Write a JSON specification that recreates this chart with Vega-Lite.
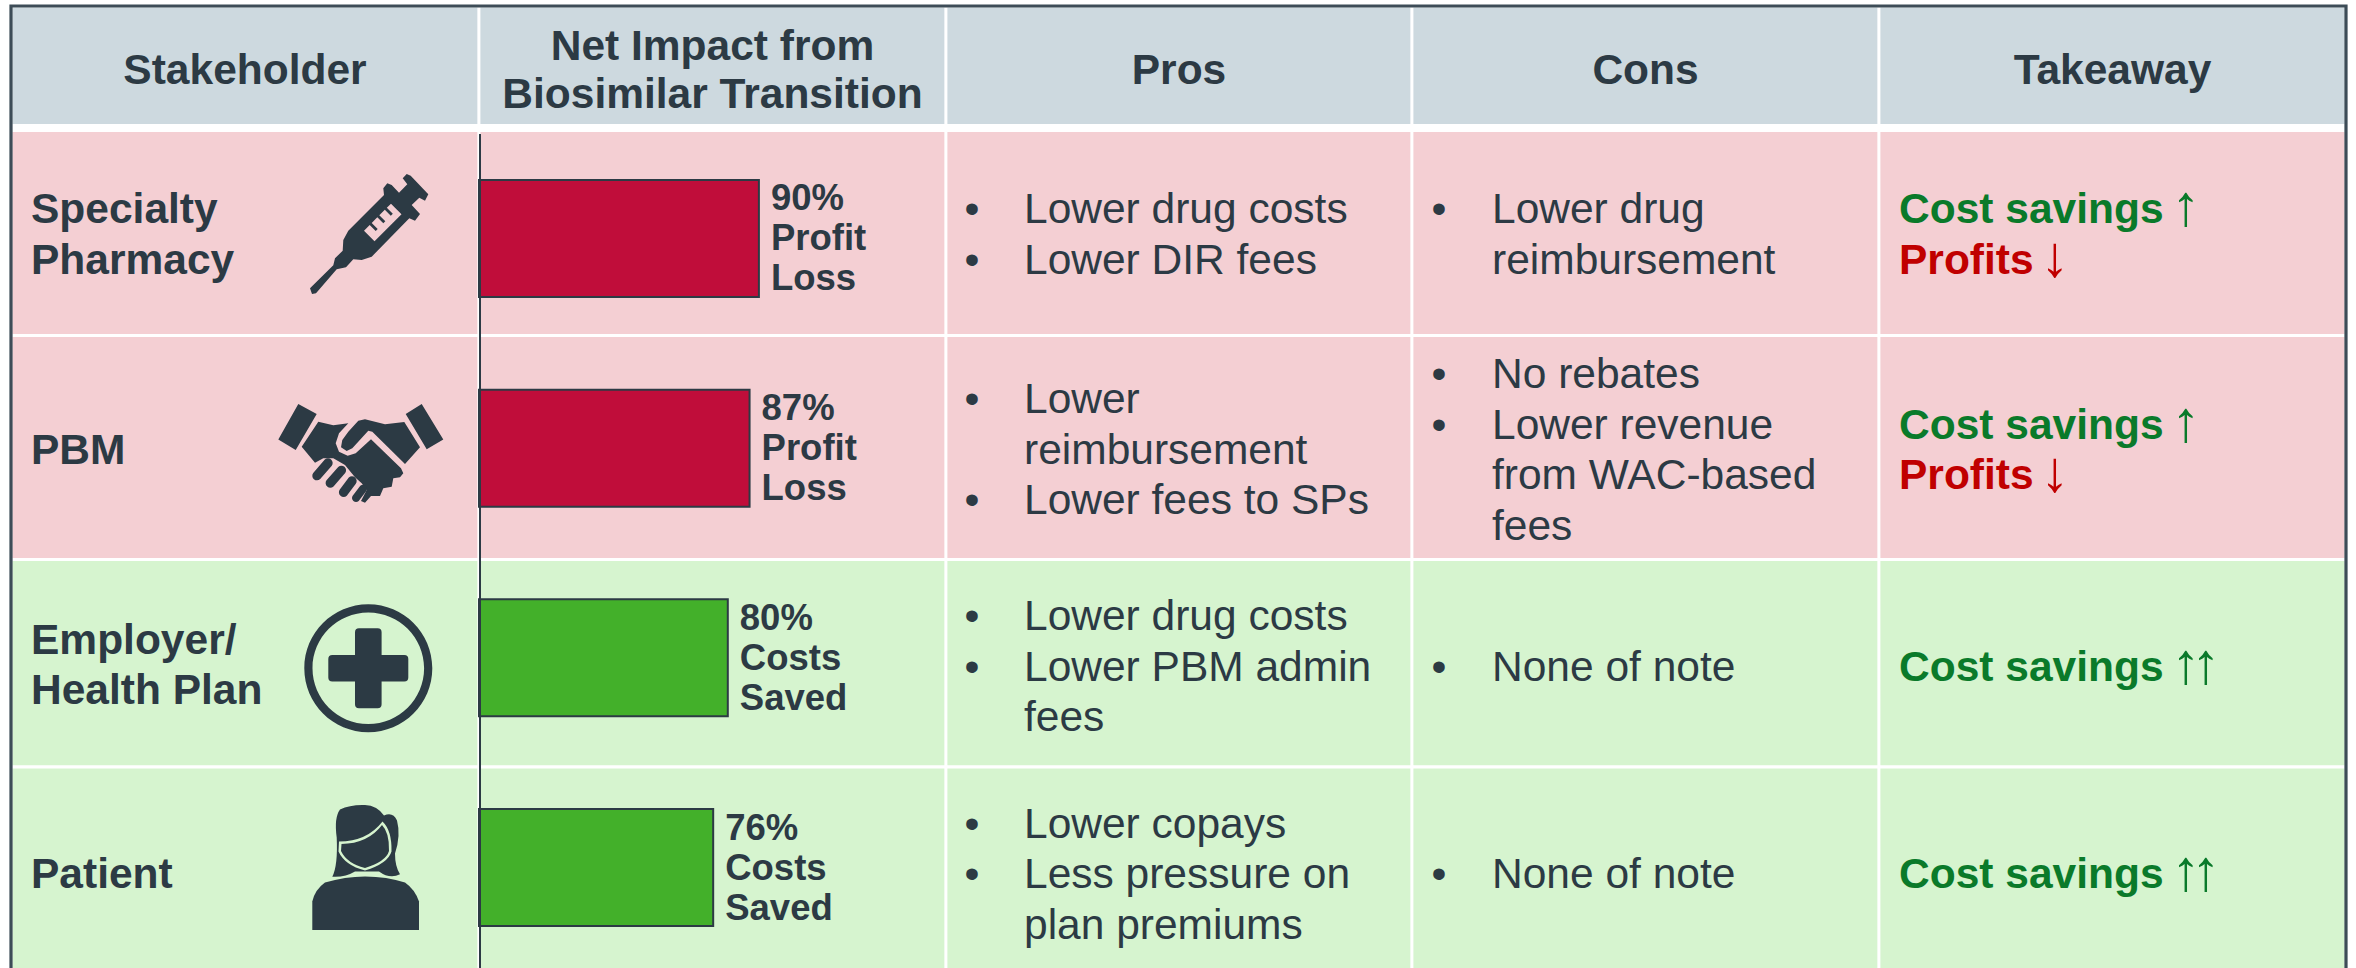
{"$schema":"https://vega.github.io/schema/vega-lite/v6.json","width":2356,"height":968,"padding":0,"autosize":{"type":"none"},"background":"#ffffff","config":{"view":{"stroke":null}},
"datasets":{
"cells":[
{"stakeholder":"Header","column":"Stakeholder","col":0,"colEnd":1,"row":-1,"rowEnd":-0.04,"tone":"header"},
{"stakeholder":"Header","column":"Net Impact","col":1,"colEnd":2,"row":-1,"rowEnd":-0.04,"tone":"header"},
{"stakeholder":"Header","column":"Pros","col":2,"colEnd":3,"row":-1,"rowEnd":-0.04,"tone":"header"},
{"stakeholder":"Header","column":"Cons","col":3,"colEnd":4,"row":-1,"rowEnd":-0.04,"tone":"header"},
{"stakeholder":"Header","column":"Takeaway","col":4,"colEnd":5,"row":-1,"rowEnd":-0.04,"tone":"header"},
{"stakeholder":"Specialty Pharmacy","column":"Stakeholder","col":0,"colEnd":1,"row":0,"rowEnd":1,"tone":"loss"},
{"stakeholder":"Specialty Pharmacy","column":"Net Impact","col":1,"colEnd":2,"row":0,"rowEnd":1,"tone":"loss"},
{"stakeholder":"Specialty Pharmacy","column":"Pros","col":2,"colEnd":3,"row":0,"rowEnd":1,"tone":"loss"},
{"stakeholder":"Specialty Pharmacy","column":"Cons","col":3,"colEnd":4,"row":0,"rowEnd":1,"tone":"loss"},
{"stakeholder":"Specialty Pharmacy","column":"Takeaway","col":4,"colEnd":5,"row":0,"rowEnd":1,"tone":"loss"},
{"stakeholder":"PBM","column":"Stakeholder","col":0,"colEnd":1,"row":1,"rowEnd":2,"tone":"loss"},
{"stakeholder":"PBM","column":"Net Impact","col":1,"colEnd":2,"row":1,"rowEnd":2,"tone":"loss"},
{"stakeholder":"PBM","column":"Pros","col":2,"colEnd":3,"row":1,"rowEnd":2,"tone":"loss"},
{"stakeholder":"PBM","column":"Cons","col":3,"colEnd":4,"row":1,"rowEnd":2,"tone":"loss"},
{"stakeholder":"PBM","column":"Takeaway","col":4,"colEnd":5,"row":1,"rowEnd":2,"tone":"loss"},
{"stakeholder":"Employer/Health Plan","column":"Stakeholder","col":0,"colEnd":1,"row":2,"rowEnd":3,"tone":"gain"},
{"stakeholder":"Employer/Health Plan","column":"Net Impact","col":1,"colEnd":2,"row":2,"rowEnd":3,"tone":"gain"},
{"stakeholder":"Employer/Health Plan","column":"Pros","col":2,"colEnd":3,"row":2,"rowEnd":3,"tone":"gain"},
{"stakeholder":"Employer/Health Plan","column":"Cons","col":3,"colEnd":4,"row":2,"rowEnd":3,"tone":"gain"},
{"stakeholder":"Employer/Health Plan","column":"Takeaway","col":4,"colEnd":5,"row":2,"rowEnd":3,"tone":"gain"},
{"stakeholder":"Patient","column":"Stakeholder","col":0,"colEnd":1,"row":3,"rowEnd":4,"tone":"gain"},
{"stakeholder":"Patient","column":"Net Impact","col":1,"colEnd":2,"row":3,"rowEnd":4,"tone":"gain"},
{"stakeholder":"Patient","column":"Pros","col":2,"colEnd":3,"row":3,"rowEnd":4,"tone":"gain"},
{"stakeholder":"Patient","column":"Cons","col":3,"colEnd":4,"row":3,"rowEnd":4,"tone":"gain"},
{"stakeholder":"Patient","column":"Takeaway","col":4,"colEnd":5,"row":3,"rowEnd":4,"tone":"gain"}
],
"frame":[{"col":0,"colEnd":5,"row":-1,"rowEnd":4}],
"headers":[
{"col":0,"firstLine":-0.5,"text":"Stakeholder"},
{"col":1,"firstLine":-0.745,"text":"Net Impact from\nBiosimilar Transition"},
{"col":2,"firstLine":-0.5,"text":"Pros"},
{"col":3,"firstLine":-0.5,"text":"Cons"},
{"col":4,"firstLine":-0.5,"text":"Takeaway"}
],
"bars":[
{"stakeholder":"Specialty Pharmacy","impact":90,"label":"90%\nProfit\nLoss","outcome":"loss"},
{"stakeholder":"PBM","impact":87,"label":"87%\nProfit\nLoss","outcome":"loss"},
{"stakeholder":"Employer/Health Plan","impact":80,"label":"80%\nCosts\nSaved","outcome":"gain"},
{"stakeholder":"Patient","impact":75.3,"label":"76%\nCosts\nSaved","outcome":"gain"}
],
"body":[
{"col":2,"firstLine":0.348,"text":"Lower drug costs\nLower DIR fees"},
{"col":2,"firstLine":1.267,"text":"Lower\nreimbursement\nLower fees to SPs"},
{"col":2,"firstLine":2.267,"text":"Lower drug costs\nLower PBM admin\nfees"},
{"col":2,"firstLine":3.258,"text":"Lower copays\nLess pressure on\nplan premiums"},
{"col":3,"firstLine":0.348,"text":"Lower drug\nreimbursement"},
{"col":3,"firstLine":1.151,"text":"No rebates\nLower revenue\nfrom WAC-based\nfees"},
{"col":3,"firstLine":2.5,"text":"None of note"},
{"col":3,"firstLine":3.5,"text":"None of note"}
],
"bulletMarks":[
{"col":2,"firstLine":0.348,"bullets":"•\n•"},
{"col":2,"firstLine":1.267,"bullets":"•"},
{"col":2,"firstLine":1.732,"bullets":"•"},
{"col":2,"firstLine":2.267,"bullets":"•\n•"},
{"col":2,"firstLine":3.258,"bullets":"•\n•"},
{"col":3,"firstLine":0.348,"bullets":"•"},
{"col":3,"firstLine":1.151,"bullets":"•\n•"},
{"col":3,"firstLine":2.5,"bullets":"•"},
{"col":3,"firstLine":3.5,"bullets":"•"}
],
"bold":[
{"col":0,"firstLine":0.348,"text":"Specialty\nPharmacy","tone":"ink"},
{"col":0,"firstLine":1.5,"text":"PBM","tone":"ink"},
{"col":0,"firstLine":2.375,"text":"Employer/\nHealth Plan","tone":"ink"},
{"col":0,"firstLine":3.5,"text":"Patient","tone":"ink"},
{"col":4,"firstLine":0.348,"text":"Cost savings","tone":"up"},
{"col":4,"firstLine":0.348,"text":"\u00a0\nProfits","tone":"down"},
{"col":4,"firstLine":1.384,"text":"Cost savings","tone":"up"},
{"col":4,"firstLine":1.384,"text":"\u00a0\nProfits","tone":"down"},
{"col":4,"firstLine":2.5,"text":"Cost savings","tone":"up"},
{"col":4,"firstLine":3.5,"text":"Cost savings","tone":"up"}
],
"arrows":[
{"slot":1,"firstLine":0.348,"text":"↑","tone":"up"},
{"slot":0,"firstLine":0.348,"text":"\u00a0\n↓","tone":"down"},
{"slot":1,"firstLine":1.384,"text":"↑","tone":"up"},
{"slot":0,"firstLine":1.384,"text":"\u00a0\n↓","tone":"down"},
{"slot":1,"firstLine":2.5,"text":"↑","tone":"up"},
{"slot":2,"firstLine":2.5,"text":"↑","tone":"up"},
{"slot":1,"firstLine":3.5,"text":"↑","tone":"up"},
{"slot":2,"firstLine":3.5,"text":"↑","tone":"up"}
],
"icons":[
{"row":0,"part":"syringe","tone":"ink"},
{"row":0,"part":"syringeWindow","tone":"loss"},
{"row":1,"part":"cuffs","tone":"ink"},
{"row":1,"part":"palm","tone":"ink"},
{"row":1,"part":"thumb","tone":"ink"},
{"row":1,"part":"fingers","tone":"ink"},
{"row":2,"part":"ring","tone":"ink"},
{"row":2,"part":"cross","tone":"ink"},
{"row":3,"part":"hair","tone":"ink"},
{"row":3,"part":"faceLine","tone":"gain"},
{"row":3,"part":"face","tone":"ink"},
{"row":3,"part":"shoulders","tone":"ink"}
]},
"layer":[
{"data":{"name":"cells"},"mark":{"type":"rect","stroke":"#ffffff","strokeWidth":2.8},
"encoding":{
"x":{"field":"col","type":"quantitative","axis":null,"scale":{"domain":[0,1,2,3,4,5],"range":[11,479,946,1412,1879,2346],"nice":false,"zero":false}},
"x2":{"field":"colEnd"},
"y":{"field":"row","type":"quantitative","axis":null,"scale":{"domain":[-1,-0.04,0,1,2,3,4],"range":[6,125.3,130.7,335.5,559.5,767,978],"nice":false,"zero":false}},
"y2":{"field":"rowEnd"},
"fill":{"field":"tone","type":"nominal","legend":null,"scale":{"domain":["header","loss","gain"],"range":["#cdd9df","#f4cfd3","#d6f4cf"]}}}},
{"data":{"name":"frame"},"mark":{"type":"rect","fill":null,"stroke":"#3d4c57","strokeWidth":3.2},
"encoding":{
"x":{"field":"col","type":"quantitative","axis":null,"scale":{"domain":[0,5],"range":[11,2346],"nice":false,"zero":false}},
"x2":{"field":"colEnd"},
"y":{"field":"row","type":"quantitative","axis":null,"scale":{"domain":[-1,4],"range":[6,978],"nice":false,"zero":false}},
"y2":{"field":"rowEnd"}}},
{"data":{"name":"headers"},"mark":{"type":"text","font":"Liberation Sans","fontWeight":"bold","fontSize":42.5,"lineHeight":48.5,"lineBreak":"\n","align":"center","baseline":"middle","fill":"#2c3a44"},
"encoding":{
"x":{"field":"col","type":"quantitative","axis":null,"scale":{"domain":[0,1,2,3,4],"range":[245,712.5,1179,1645.5,2112.5],"nice":false,"zero":false}},
"y":{"field":"firstLine","type":"quantitative","axis":null,"scale":{"domain":[-1.5,-0.5,0.5,1.5,2.5,3.5],"range":[-29,71,235.5,450.5,668,874.5],"nice":false,"zero":false}},
"text":{"field":"text"}}},
{"data":{"name":"bars"},"mark":{"type":"bar","orient":"horizontal","stroke":"#2c3a44","strokeWidth":2},
"encoding":{
"x":{"field":"impact","type":"quantitative","axis":null,"scale":{"domain":[0,100],"range":[479,790],"nice":false}},
"y":{"field":"stakeholder","type":"nominal","sort":null,"axis":{"title":null,"labels":false,"ticks":false,"domainColor":"#2c3a44","domainWidth":2,"offset":-479.5,"zindex":1},"scale":{"domain":["Specialty Pharmacy","PBM","Employer/Health Plan","Patient"],"range":[133.6,972.4],"paddingInner":0.442,"paddingOuter":0.221}},
"fill":{"field":"outcome","type":"nominal","legend":null,"scale":{"domain":["loss","gain"],"range":["#c00d3a","#43b02a"]}}}},
{"data":{"name":"bars"},"mark":{"type":"text","font":"Liberation Sans","fontWeight":"bold","fontSize":36.5,"lineHeight":40,"lineBreak":"\n","align":"left","baseline":"middle","dx":12,"dy":-39,"fill":"#2c3a44"},
"encoding":{
"x":{"field":"impact","type":"quantitative","axis":null,"scale":{"domain":[0,100],"range":[479,790],"nice":false}},
"y":{"field":"stakeholder","type":"nominal","sort":null,"axis":null,"scale":{"domain":["Specialty Pharmacy","PBM","Employer/Health Plan","Patient"],"range":[133.6,972.4],"paddingInner":0.442,"paddingOuter":0.221}},
"text":{"field":"label"}}},
{"data":{"name":"body"},"mark":{"type":"text","font":"Liberation Sans","fontSize":42.5,"lineHeight":50.5,"lineBreak":"\n","align":"left","baseline":"middle","fill":"#2c3a44"},
"encoding":{
"x":{"field":"col","type":"quantitative","axis":null,"scale":{"domain":[2,3],"range":[1024,1492],"nice":false,"zero":false}},
"y":{"field":"firstLine","type":"quantitative","axis":null,"scale":{"domain":[-1.5,-0.5,0.5,1.5,2.5,3.5],"range":[-29,71,235.5,450.5,668,874.5],"nice":false,"zero":false}},
"text":{"field":"text"}}},
{"data":{"name":"bulletMarks"},"mark":{"type":"text","font":"Liberation Sans","fontSize":42.5,"lineHeight":50.5,"lineBreak":"\n","align":"center","baseline":"middle","fill":"#2c3a44"},
"encoding":{
"x":{"field":"col","type":"quantitative","axis":null,"scale":{"domain":[2,3],"range":[972,1439],"nice":false,"zero":false}},
"y":{"field":"firstLine","type":"quantitative","axis":null,"scale":{"domain":[-1.5,-0.5,0.5,1.5,2.5,3.5],"range":[-29,71,235.5,450.5,668,874.5],"nice":false,"zero":false}},
"text":{"field":"bullets"}}},
{"data":{"name":"bold"},"mark":{"type":"text","font":"Liberation Sans","fontWeight":"bold","fontSize":42.5,"lineHeight":50.5,"lineBreak":"\n","align":"left","baseline":"middle"},
"encoding":{
"x":{"field":"col","type":"quantitative","axis":null,"scale":{"domain":[0,4],"range":[31,1899],"nice":false,"zero":false}},
"y":{"field":"firstLine","type":"quantitative","axis":null,"scale":{"domain":[-1.5,-0.5,0.5,1.5,2.5,3.5],"range":[-29,71,235.5,450.5,668,874.5],"nice":false,"zero":false}},
"fill":{"field":"tone","type":"nominal","legend":null,"scale":{"domain":["ink","up","down"],"range":["#2c3a44","#0a7a2a","#c00000"]}},
"text":{"field":"text"}}},
{"data":{"name":"arrows"},"mark":{"type":"text","font":"Liberation Sans","fontSize":58,"lineHeight":50.5,"lineBreak":"\n","align":"center","baseline":"middle","dy":-2},
"encoding":{
"x":{"field":"slot","type":"quantitative","axis":null,"scale":{"domain":[0,1,2],"range":[2055,2186,2206],"nice":false,"zero":false}},
"y":{"field":"firstLine","type":"quantitative","axis":null,"scale":{"domain":[-1.5,-0.5,0.5,1.5,2.5,3.5],"range":[-29,71,235.5,450.5,668,874.5],"nice":false,"zero":false}},
"fill":{"field":"tone","type":"nominal","legend":null,"scale":{"domain":["up","down"],"range":["#0a7a2a","#c00000"]}},
"text":{"field":"text"}}},
{"data":{"name":"icons"},"mark":{"type":"point","filled":true,"opacity":1,"size":4,"strokeWidth":0},
"encoding":{
"x":{"field":"row","type":"quantitative","axis":null,"scale":{"domain":[0,1,2,3],"range":[370,360,368.3,365],"nice":false,"zero":false}},
"y":{"field":"row","type":"quantitative","axis":null,"scale":{"domain":[0,1,2,3],"range":[235,452.5,668.3,867.5],"nice":false,"zero":false}},
"fill":{"field":"tone","type":"nominal","legend":null,"scale":{"domain":["ink","loss","gain"],"range":["#2c3a44","#f4cfd3","#d6f4cf"]}},
"shape":{"field":"part","type":"nominal","legend":null,"scale":{"domain":["syringe","syringeWindow","cuffs","palm","thumb","fingers","ring","cross","hair","faceLine","face","shoulders"],"range":[
"M-60,53.3 L-36.7,30.3 L-35,23.3 L-27.3,15.7 L-26.7,5 L-21.7,-4.3 L14,-40 L13.3,-46.7 L17.3,-51.7 L21.7,-50 L29,-42.3 L37.3,-50.7 L32.7,-56.7 L36.7,-61 L40.7,-59.3 L58.3,-40.7 L55,-34.3 L49.3,-37.3 L41.7,-30 L50,-21 L45,-14.3 L39.3,-16.7 L1.7,21.7 L-8.3,25 L-16.7,24.3 L-24,32.3 L-33.3,34.3 L-54,58.3 L-58,59 Z",
"M-6,-4.3 L-0.3,-10 L5.7,-4 L7.7,-6 L1.7,-12 L7.3,-17.7 L13.3,-11.7 L15.3,-13.7 L9.3,-19.7 L14.8,-25.2 L20.8,-19.2 L22.8,-21.2 L16.8,-27.2 L21,-31.3 L31.5,-20.8 L4.5,6.2 Z",
"M-81.7,-13 L-61.7,-48.5 L-43.3,-38.5 L-64.3,-2.5 Z M45.7,-38.5 L61.7,-48.5 L83.3,-13 L66.7,-3.2 Z",
"M-58.3,-5.8 L-41.7,-30.8 L-26.7,-27.2 L-11.7,-29.2 L-21,-19.2 L-24.3,-9.2 L-21,-0.8 L-12.3,3.2 L-4.3,0.8 L11,-13.2 L41,15.8 L43.3,20.8 L40,24.8 L33.3,25.8 L31.7,34.2 L23.3,35.8 L20,43.5 L11,43.5 L5,50.2 L1,48.5 L6.7,37.5 L1.7,30.8 L-5,24.8 L-15,12.5 L-26.7,5.8 L-36.7,5.8 L-45,10.2 Z",
"M-17.7,-12.5 L-11.7,-20.8 L-1.7,-31.8 L5,-33.2 L25,-28.2 L44.3,-30.5 L60,-5.2 L45,11.5 L12.3,-20.8 L8.3,-21.8 L-7.7,-4.2 L-13.3,-1.5 L-19,-5.2 Z",
"M-39.8,26.6 L-28.2,13.3 A4.7,4.7 0 0 0 -35.2,7.1 L-46.8,20.4 A4.7,4.7 0 0 0 -39.8,26.6 Z M-26.5,33.9 L-14.8,20.6 A4.7,4.7 0 0 0 -21.8,14.4 L-33.5,27.7 A4.7,4.7 0 0 0 -26.5,33.9 Z M-13.2,43.3 L-4.2,31.3 A4.7,4.7 0 0 0 -11.2,25.1 L-20.2,37.1 A4.7,4.7 0 0 0 -13.2,43.3 Z M-1.3,48.4 L6.3,38.4 A4,4 0 0 0 0.3,33.2 L-7.3,43.2 A4,4 0 0 0 -1.3,48.4 Z",
"M-64,0 A64,64 0 1 1 64,0 A64,64 0 1 1 -64,0 Z M-55.8,0 A55.8,55.8 0 1 0 55.8,0 A55.8,55.8 0 1 0 -55.8,0 Z",
"M-13.3,-36 Q-13.3,-40 -9.3,-40 L9.3,-40 Q13.3,-40 13.3,-36 L13.3,-13.3 L36,-13.3 Q40,-13.3 40,-9.3 L40,9.3 Q40,13.3 36,13.3 L13.3,13.3 L13.3,36 Q13.3,40 9.3,40 L-9.3,40 Q-13.3,40 -13.3,36 L-13.3,13.3 L-36,13.3 Q-40,13.3 -40,9.3 L-40,-9.3 Q-40,-13.3 -36,-13.3 L-13.3,-13.3 Z",
"M-32.7,9.2 Q-27,-2 -28.3,-30 Q-31,-50 -25,-58 Q-15,-63 0,-62.5 Q12,-62 19,-52 Q28,-56 32,-47 Q36,-32 30,-14 Q30,-1 35,6.8 Q25,12 14,4 L-10,4 Q-20,10 -32.7,9.2 Z",
"M-26,-26 Q2,-26 17.5,-46 Q27,-37 26.5,-16 Q23,-4 0,3 Q-20,-2 -26.5,-16 Z",
"M-23.5,-23.5 Q3,-24 17,-42.5 Q24.5,-35 24,-16.5 Q21,-6 0,0.5 Q-18,-4 -24,-16.5 Z",
"M-52.7,62.5 L-52.7,34 Q-50,22 -40,15 Q-20,9 0,9 Q22,9 40,15 Q50,22 54,34 L54,62.5 Z"
]}}}}
],
"resolve":{"scale":{"x":"independent","y":"independent","fill":"independent","shape":"independent"},"axis":{"x":"independent","y":"independent"},"legend":{"fill":"independent","shape":"independent"}}}
